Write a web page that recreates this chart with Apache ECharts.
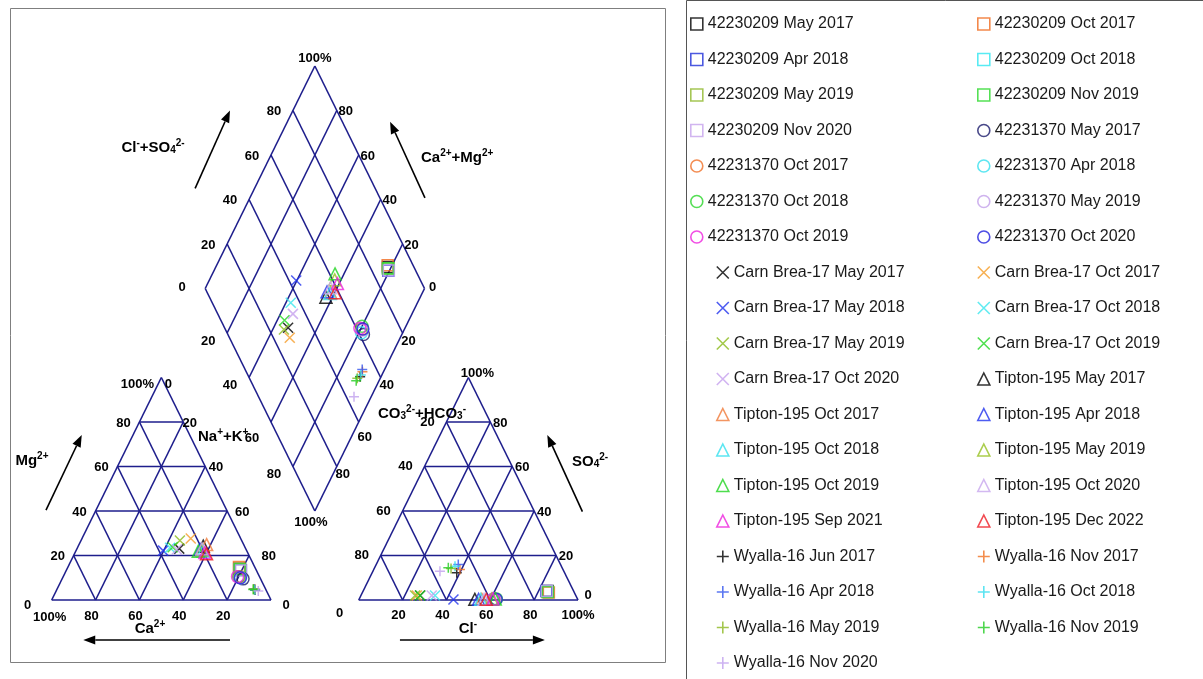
<!DOCTYPE html>
<html>
<head>
<meta charset="utf-8">
<title>Piper diagram</title>
<script src="https://cdn.jsdelivr.net/npm/echarts@6/dist/echarts.min.js"></script>
<style>
  html, body { margin: 0; padding: 0; background: #fff; }
  #main { width: 1203px; height: 679px; }
</style>
</head>
<body>
<div id="main"></div>
<script>
// sample compositions, fractions of total cation / anion meq
// 42230209 - squares
const w230209Dates = ['May 2017', 'Oct 2017', 'Apr 2018', 'Oct 2018', 'May 2019', 'Nov 2019', 'Nov 2020']
const w230209Ca = [0.075, 0.072, 0.070, 0.074, 0.072, 0.073, 0.070]
const w230209Mg = [0.140, 0.148, 0.135, 0.138, 0.140, 0.137, 0.133]
const w230209Cl = [0.842, 0.850, 0.835, 0.840, 0.842, 0.845, 0.838]
const w230209SO4 = [0.040, 0.034, 0.040, 0.038, 0.036, 0.036, 0.040]

// 42231370 - circles
const w231370Dates = ['May 2017', 'Oct 2017', 'Apr 2018', 'Oct 2018', 'May 2019', 'Oct 2019', 'Oct 2020']
const w231370Ca = [0.080, 0.090, 0.088, 0.095, 0.090, 0.100, 0.090]
const w231370Mg = [0.095, 0.105, 0.100, 0.105, 0.100, 0.105, 0.100]
const w231370Cl = [0.615, 0.620, 0.610, 0.625, 0.620, 0.612, 0.625]
const w231370SO4 = [0.003, 0.003, 0.003, 0.005, 0.003, 0.004, 0.003]

// Carn Brea-17 - crosses
const carnDates = ['May 2017', 'Oct 2017', 'May 2018', 'Oct 2018', 'May 2019', 'Oct 2019', 'Oct 2020']
const carnCa = [0.303, 0.228, 0.381, 0.343, 0.282, 0.330, 0.316]
const carnMg = [0.231, 0.276, 0.222, 0.235, 0.267, 0.237, 0.227]
const carnCl = [0.270, 0.255, 0.431, 0.338, 0.247, 0.270, 0.323]
const carnSO4 = [0.020, 0.020, 0.002, 0.020, 0.020, 0.020, 0.020]

// Tipton-195 - triangles
const tiptonDates = ['May 2017', 'Oct 2017', 'Apr 2018', 'Oct 2018', 'May 2019', 'Oct 2019', 'Oct 2020', 'Sep 2021', 'Dec 2022']
const tiptonCa = [0.188, 0.169, 0.210, 0.200, 0.204, 0.222, 0.200, 0.195, 0.190]
const tiptonMg = [0.242, 0.249, 0.227, 0.220, 0.225, 0.219, 0.230, 0.213, 0.208]
const tiptonCl = [0.528, 0.560, 0.545, 0.555, 0.605, 0.620, 0.570, 0.610, 0.580]
const tiptonSO4 = [0.003, 0.003, 0.003, 0.003, 0.005, 0.005, 0.003, 0.004, 0.003]

// Wyalla-16 - plus signs
const wyallaDates = ['Jun 2017', 'Nov 2017', 'Apr 2018', 'Oct 2018', 'May 2019', 'Nov 2019', 'Nov 2020']
const wyallaCa = [0.050, 0.048, 0.052, 0.050, 0.055, 0.057, 0.038]
const wyallaMg = [0.045, 0.048, 0.050, 0.046, 0.050, 0.047, 0.040]
const wyallaCl = [0.386, 0.393, 0.374, 0.363, 0.350, 0.336, 0.306]
const wyallaSO4 = [0.122, 0.137, 0.160, 0.152, 0.142, 0.145, 0.129]

const tickVals = [20, 40, 60, 80]

// ---- piper geometry (triangle side = 1 x-unit, triangle height = 1 y-unit, gap 0.4) ----
function cationPt(ca, mg) {
  const nak = 1 - ca - mg
  return [nak + mg / 2, mg]
}
function anionPt(cl, so4) {
  return [1.4 + cl + so4 / 2, so4]
}
// c = Ca+Mg, a = Cl+SO4
function diamondPt(c, a) {
  return [1.2 - c / 2 + a / 2, 0.4 + c + a]
}

const sites = [
  { site: '42230209', dates: w230209Dates, ca: w230209Ca, mg: w230209Mg, cl: w230209Cl, so4: w230209SO4,
    symbol: 'rect', size: 11,
    colors: ['#000000', '#f06a1e', '#1f2fd8', '#2ee6f0', '#8fb82a', '#2bd82b', '#c6a3ec'] },
  { site: '42231370', dates: w231370Dates, ca: w231370Ca, mg: w231370Mg, cl: w231370Cl, so4: w231370SO4,
    symbol: 'circle', size: 12,
    colors: ['#1c1c6c', '#f07028', '#36e0ee', '#2ad62a', '#c3a0ea', '#ee22dd', '#2222dd'] },
  { site: 'Carn Brea-17', dates: carnDates, ca: carnCa, mg: carnMg, cl: carnCl, so4: carnSO4,
    symbol: 'path://M0,0L10,10M10,0L0,10', size: 10,
    colors: ['#000000', '#f59d2a', '#2233ee', '#3ae6ee', '#8cbc1e', '#24d824', '#c6a0ee'] },
  { site: 'Tipton-195', dates: tiptonDates, ca: tiptonCa, mg: tiptonMg, cl: tiptonCl, so4: tiptonSO4,
    symbol: 'triangle', size: 12,
    colors: ['#000000', '#f07a3a', '#2233ee', '#33e0ee', '#96c020', '#22d422', '#c8a8ee', '#ee22dd', '#ee1c24'] },
  { site: 'Wyalla-16', dates: wyallaDates, ca: wyallaCa, mg: wyallaMg, cl: wyallaCl, so4: wyallaSO4,
    symbol: 'path://M5,0L5,10M0,5L10,5', size: 10,
    colors: ['#000000', '#f07020', '#3355ee', '#33ddee', '#8cb820', '#22cc22', '#c0a0ee'] }
]

const names = []
const scatterSeries = []
sites.forEach(s => {
  s.dates.forEach((d, i) => {
    const name = s.site + ' ' + d
    names.push(name)
    const c = s.ca[i] + s.mg[i]
    const a = s.cl[i] + s.so4[i]
    scatterSeries.push({
      type: 'scatter',
      name: name,
      symbol: s.symbol,
      symbolSize: s.size,
      silent: true,
      z: 3,
      itemStyle: { color: 'transparent', borderColor: s.colors[i], borderWidth: 1.5 },
      data: [cationPt(s.ca[i], s.mg[i]), anionPt(s.cl[i], s.so4[i]), diamondPt(c, a)]
    })
  })
})

// grid lines of the two triangles and the diamond
const segs = []
for (let k = 0; k <= 5; k++) {
  const f = k / 5
  ;[0, 1.4].forEach(x0 => {
    if (k < 5) segs.push([x0 + f / 2, f, x0 + 1 - f / 2, f])
    segs.push([x0 + f, 0, x0 + (1 + f) / 2, 1 - f])
    segs.push([x0 + f, 0, x0 + f / 2, f])
  })
  const p1 = diamondPt(f, 0), p2 = diamondPt(f, 1)
  const q1 = diamondPt(0, f), q2 = diamondPt(1, f)
  segs.push([p1[0], p1[1], p2[0], p2[1]])
  segs.push([q1[0], q1[1], q2[0], q2[1]])
}

// text labels: anchor in chart units + pixel offset
const labels = []
function lab(pt, dx, dy, text, align) {
  labels.push({ x: pt[0], y: pt[1], dx: dx, dy: dy, text: String(text), align: align || 'center', rich: false })
}
function title(pt, text, align) {
  labels.push({ x: pt[0], y: pt[1], dx: 0, dy: 0, text: text, align: align || 'center', rich: true })
}
tickVals.forEach(v => {
  const f = v / 100
  lab([f / 2, f], -16, 1, v)                       // Mg
  lab([0.5 + f / 2, 1 - f], 2 + 0.22 * v, 1, v)    // Na+K
  lab([1 - f, 0], -4, 16, v)                       // Ca
  lab([1.4 + (1 - f) / 2, 1 - f], -19, 0, v)       // CO3+HCO3
  lab([2.4 - f / 2, f], 10, 1, v)                  // SO4
  lab([1.4 + f, 0], -4, 15, v)                     // Cl
  lab(diamondPt(1, f), -19, 1, v)                  // Cl+SO4
  lab(diamondPt(f, 1), 9, 1, v)                    // Ca+Mg
  lab(diamondPt(1 - f, 0), -19, v === 60 ? 16 : 8, v) // Na+K (diamond)
  lab(diamondPt(0, 1 - f), 6, v === 60 ? 15 : 8, v)   // CO3+HCO3 (diamond)
})
lab([0.5, 1], -24, 7, '100%')
lab([0.5, 1], 7, 7, '0')
lab([0, 0], -24, 5, '0')
lab([0, 0], -2, 17, '100%')
lab([1, 0], 15, 5, '0')
lab([1.9, 1], 9, -4, '100%')
lab([1.4, 0], -19, 13, '0')
lab([2.4, 0], 10, -5, '0')
lab([2.4, 0], 0, 15, '100%')
lab(diamondPt(1, 1), 0, -8, '100%')
lab(diamondPt(1, 0), -23, -1, '0')
lab(diamondPt(0, 1), 8, -1, '0')
lab(diamondPt(0, 0), -4, 11, '100%')

title([0.462, 2.036], '{t|Cl}{sp|-}{t|+SO}{sb|4}{sp|2-}')
title([1.849, 1.991], '{t|Ca}{sp|2+}{t|+Mg}{sp|2+}')
title([-0.09, 0.629], '{t|Mg}{sp|2+}')
title([0.448, -0.126], '{t|Ca}{sp|2+}')
title([0.667, 0.737], '{t|Na}{sp|+}{t|+K}{sp|+}', 'left')
title([1.488, 0.84], '{t|CO}{sb|3}{sp|2-}{t|+HCO}{sb|3}{sp|-}', 'left')
title([2.455, 0.625], '{t|SO}{sb|4}{sp|2-}')
title([1.898, -0.126], '{t|Cl}{sp|-}')

// direction arrows next to each axis title
const arrows = [
  [-0.026, 0.404, 0.137, 0.742],
  [0.813, -0.18, 0.144, -0.18],
  [1.588, -0.18, 2.249, -0.18],
  [2.42, 0.397, 2.26, 0.742],
  [0.654, 1.85, 0.813, 2.2],
  [1.702, 1.807, 1.543, 2.15]
]

const richStyles = {
  t: { font: 'bold 15px Arial', fill: '#000', lineHeight: 17, verticalAlign: 'bottom' },
  sp: { font: 'bold 10px Arial', fill: '#000', verticalAlign: 'top' },
  sb: { font: 'bold 10px Arial', fill: '#000', verticalAlign: 'bottom' }
}

const gridSeries = {
  type: 'custom',
  silent: true,
  z: 1,
  data: segs,
  renderItem(params, api) {
    const a = api.coord([api.value(0), api.value(1)])
    const b = api.coord([api.value(2), api.value(3)])
    return {
      type: 'line',
      shape: { x1: a[0], y1: a[1], x2: b[0], y2: b[1] },
      style: { stroke: '#1e1e8c', lineWidth: 1.6 }
    }
  }
}

const arrowSeries = {
  type: 'custom',
  silent: true,
  z: 1,
  data: arrows,
  renderItem(params, api) {
    const a = api.coord([api.value(0), api.value(1)])
    const b = api.coord([api.value(2), api.value(3)])
    const len = Math.hypot(b[0] - a[0], b[1] - a[1])
    const ux = (b[0] - a[0]) / len, uy = (b[1] - a[1]) / len
    const hl = 12, hw = 4.5
    const bx = b[0] - ux * hl, by = b[1] - uy * hl
    return {
      type: 'group',
      children: [
        { type: 'line', shape: { x1: a[0], y1: a[1], x2: bx, y2: by }, style: { stroke: '#000', lineWidth: 1.6 } },
        { type: 'polygon', shape: { points: [b, [bx - uy * hw, by + ux * hw], [bx + uy * hw, by - ux * hw]] }, style: { fill: '#000' } }
      ]
    }
  }
}

const labelSeries = {
  type: 'custom',
  silent: true,
  z: 2,
  data: labels.map((l, i) => [l.x, l.y, i]),
  renderItem(params, api) {
    const l = labels[params.dataIndex]
    const p = api.coord([api.value(0), api.value(1)])
    const style = l.rich
      ? { text: l.text, rich: richStyles, fill: '#000', align: l.align, verticalAlign: 'middle' }
      : { text: l.text, font: 'bold 13px Arial', fill: '#000', align: l.align, verticalAlign: 'middle' }
    return { type: 'text', x: p[0] + l.dx, y: p[1] + l.dy, style: style }
  }
}

const legendBase = {
  orient: 'vertical',
  itemWidth: 12,
  itemHeight: 12,
  itemGap: 19.5,
  padding: 0,
  selectedMode: false,
  itemStyle: { borderWidth: 1.6 },
  textStyle: { fontFamily: 'Arial', fontSize: 16, lineHeight: 16, color: '#1a1a1a' }
}
const col1Top = names.filter((n, i) => i % 2 === 0 && i < 14)
const col1Bottom = names.filter((n, i) => i % 2 === 0 && i >= 14)
const col2 = names.filter((n, i) => i % 2 === 1)

const chart = echarts.init(document.getElementById('main'))
chart.setOption({
  animation: false,
  backgroundColor: '#fff',
  grid: { left: 7.84, top: 21.5, width: 614.04, height: 623 },
  xAxis: { type: 'value', min: -0.2, max: 2.6, show: false },
  yAxis: { type: 'value', min: -0.2, max: 2.6, show: false },
  graphic: [
    { type: 'rect', silent: true, shape: { x: 10.5, y: 8.5, width: 655, height: 654 }, style: { fill: null, stroke: '#7f7f7f', lineWidth: 1 } },
    { type: 'rect', silent: true, shape: { x: 686.5, y: 0.5, width: 540, height: 700 }, style: { fill: null, stroke: '#555', lineWidth: 1 } }
  ],
  legend: [
    Object.assign({}, legendBase, { left: 690, top: 16, data: col1Top }),
    Object.assign({}, legendBase, { left: 716, top: 16 + 7 * 35.5, data: col1Bottom }),
    Object.assign({}, legendBase, { left: 977, top: 16, data: col2 })
  ],
  series: [gridSeries, arrowSeries, labelSeries].concat(scatterSeries)
})
</script>
</body>
</html>
